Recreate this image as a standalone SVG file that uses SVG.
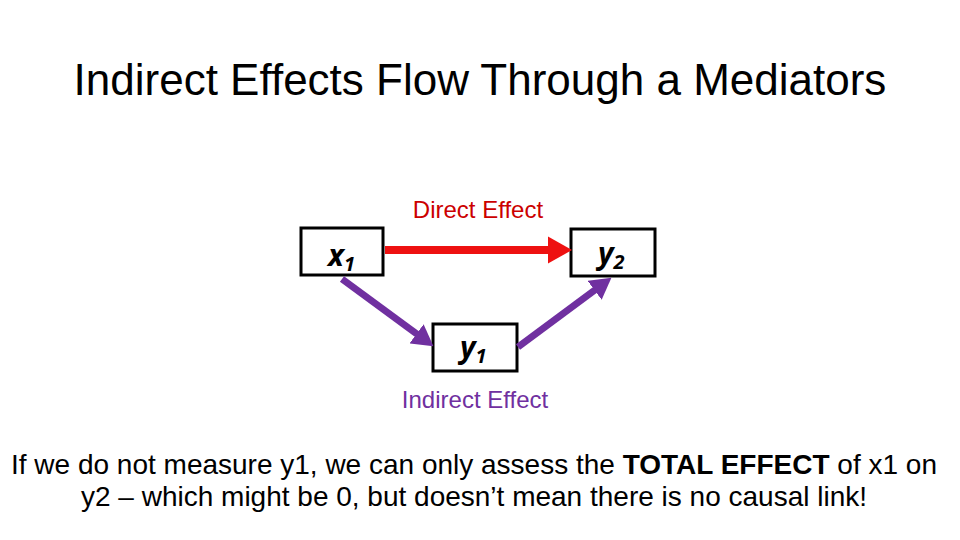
<svg xmlns="http://www.w3.org/2000/svg" width="960" height="540" viewBox="0 0 960 540">
<style>
text{font-family:"Liberation Sans",Arial,sans-serif}
.box{fill:#fff;stroke:#000;stroke-width:3}
.v{font-family:"Open Sans","DejaVu Sans",sans-serif;font-weight:bold;font-style:italic;font-size:30px}
.s{font-size:20px}
</style>
<defs>
<marker id="r" markerWidth="3" markerHeight="3.4" refX="1.5" refY="1.7" orient="auto" markerUnits="strokeWidth" viewBox="0 0 3 3.4"><path d="M0,0L3,1.7L0,3.4z" fill="#ee1111"/></marker>
<marker id="p" markerWidth="3" markerHeight="3.4" refX="1.5" refY="1.7" orient="auto" markerUnits="strokeWidth" viewBox="0 0 3 3.4"><path d="M0,0L3,1.7L0,3.4z" fill="#7030a0"/></marker>
</defs>
<rect width="960" height="540" fill="#fff"/>
<text x="480" y="95" font-size="44" text-anchor="middle">Indirect Effects Flow Through a Mediators</text>
<text x="478" y="218" font-size="24" fill="#cc0000" text-anchor="middle">Direct Effect</text>
<text x="475" y="408" font-size="24" fill="#7030a0" text-anchor="middle">Indirect Effect</text>
<g id="x1"><rect class="box" x="301" y="228" width="82" height="47"/><text class="v" x="328" y="266">x<tspan class="s" dy="5">1</tspan></text></g>
<g id="y2"><rect class="box" x="571" y="229" width="84" height="47"/><text class="v" x="598" y="264">y<tspan class="s" dy="5">2</tspan></text></g>
<g id="y1"><rect class="box" x="433" y="324" width="84" height="47"/><text class="v" x="460" y="358">y<tspan class="s" dy="5">1</tspan></text></g>
<g id="connectors">
<line x1="385" y1="250" x2="560" y2="250" stroke="#ee1111" stroke-width="8" marker-end="url(#r)"/>
<line x1="342" y1="279" x2="425" y2="340" stroke="#7030a0" stroke-width="7" marker-end="url(#p)"/>
<line x1="518" y1="347" x2="603" y2="284" stroke="#7030a0" stroke-width="7" marker-end="url(#p)"/>
</g>
<text x="474" y="474" font-size="28" text-anchor="middle">If we do not measure y1, we can only assess the <tspan font-weight="bold">TOTAL EFFECT</tspan> of x1 on</text>
<text x="474" y="506" font-size="28" text-anchor="middle">y2 – which might be 0, but doesn’t mean there is no causal link!</text>
</svg>
